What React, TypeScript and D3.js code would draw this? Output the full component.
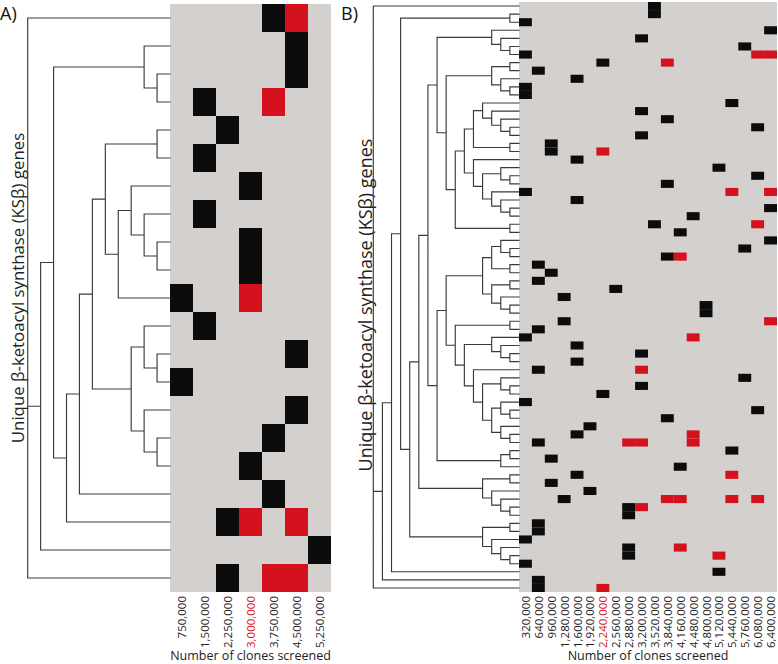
import React, { useMemo } from "react";
import * as d3 from "d3";

type Tree = number | Tree[];

// ---------- Panel A data ----------
const colsA = ["750,000", "1,500,000", "2,250,000", "3,000,000", "3,750,000", "4,500,000", "5,250,000"];
const highlightA = "3,000,000";
// column index of the first (black) detection, one per gene row
const blackColA = [4, 5, 5, 1, 2, 1, 3, 1, 3, 3, 0, 1, 5, 0, 5, 4, 3, 4, 2, 6, 2];
// [row, column] of repeated (red) detections
const redA = [[0, 5], [3, 4], [10, 3], [18, 3], [18, 5], [20, 4], [20, 5]];
// dendrogram topology (leaf = row index)
const aN92: Tree = [[[4, 5], [[6, [7, [8, 9]]], 10]], [[11, [12, 13]], [14, [15, 16]]]];
const aN54: Tree = [[1, [2, 3]], [[aN92, 17], 18]];
const treeA: Tree = [0, [aN54, 19], 20];

// ---------- Panel B data ----------
const colsB = [
  "320,000", "640,000", "960,000", "1,280,000", "1,600,000", "1,920,000", "2,240,000",
  "2,560,000", "2,880,000", "3,200,000", "3,520,000", "3,840,000", "4,160,000", "4,480,000",
  "4,800,000", "5,120,000", "5,440,000", "5,760,000", "6,080,000", "6,400,000",
];
const highlightB = "2,240,000";
const blackColB = [
  10, 10, 0, 19, 9, 17, 0, 6, 1, 4,
  0, 0, 16, 9, 11, 18, 9, 2, 2, 4,
  15, 18, 11, 0, 4, 19, 13, 10, 12, 19,
  17, 11, 1, 2, 1, 7, 3, 14, 14, 3,
  1, 0, 4, 9, 4, 1, 17, 9, 6, 0,
  18, 11, 5, 4, 1, 16, 2, 12, 4, 2,
  5, 3, 8, 8, 1, 1, 0, 8, 8, 0,
  15, 1, 1,
];
const redB = [
  [6, 18], [6, 19], [7, 11], [18, 6], [23, 16], [23, 19], [27, 18], [31, 12],
  [39, 19], [41, 13], [45, 9], [53, 13], [54, 8], [54, 9], [54, 13], [58, 16],
  [61, 11], [61, 12], [61, 16], [61, 18], [62, 9], [67, 12], [68, 15], [72, 6],
];
const bN348c: Tree = [[64, 65], [66, [67, [68, 69]]]];
const bN348d: Tree = [[58, 59], [60, [61, [62, 63]]]];
const bN320a: Tree = [[12, [13, [14, [15, 16]]]], [17, 18]];
const bN320b: Tree = [19, [[20, [21, 22]], [23, [24, [25, 26]]]]];
const bN268: Tree = [[bN320a, bN320b], [27, 28]];
const bN212a: Tree = [[3, [4, [5, 6]]], [[[7, 8], [9, [10, 11]]], bN268]];
const bN348e: Tree = [[[29, [30, 31]], [32, 33]], [[34, 35], [36, [37, 38]]]];
const bN348f: Tree = [[46, [47, 48]], [[49, [50, 51]], [52, [53, 54]]]];
const bN268b: Tree = [[39, 40], [[41, [42, [43, 44]]], [45, bN348f]]];
const bN213b: Tree = [[bN348e, bN268b], [[55, 56], 57]];
const bN133: Tree = [[[bN212a, bN213b], bN348d], bN348c];
const treeB: Tree = [0, [[[[1, 2], bN133], 70], 71], 72];

// ---------- styling ----------
const GREY = "#d4d0cd";
const BLACK = "#0c0c0c";
const RED = "#d3121e";
const LINE = "#3a3a3a";
const FONT = "'Open Sans', 'Noto Sans', sans-serif";

function dendroPath(tree: Tree, yOf: (i: number) => number, x0: number, x1: number) {
  const root = d3.hierarchy<Tree>(tree, (d) => (Array.isArray(d) ? (d as Tree[]) : null));
  const xs = d3.scaleLinear().domain([0, root.height]).range([x0, x1]);
  root.eachAfter((n: any) => {
    if (!n.children) n.py = yOf(n.data as number);
    else n.py = (n.children[0].py + n.children[n.children.length - 1].py) / 2;
    n.px = xs(n.height);
  });
  const p = d3.path();
  root.each((n: any) => {
    if (!n.children) return;
    const first = n.children[0];
    const last = n.children[n.children.length - 1];
    p.moveTo(n.px, first.py);
    p.lineTo(n.px, last.py);
    n.children.forEach((c: any) => {
      p.moveTo(n.px, c.py);
      p.lineTo(c.px, c.py);
    });
  });
  return p.toString();
}

interface PanelProps {
  cols: string[];
  highlight: string;
  blackCol: number[];
  red: number[][];
  tree: Tree;
  left: number;
  right: number;
  top: number;
  bottom: number;
  dendroLeft: number;
  letter: string;
  letterX: number;
  yLabelX: number;
  yLabelY: number;
  yLabelSize: number;
}

function Panel(props: PanelProps) {
  const { cols, highlight, blackCol, red, tree, left, right, top, bottom, dendroLeft } = props;
  const xb = d3.scaleBand<string>().domain(cols).range([left, right]);
  const yb = d3.scaleBand<number>().domain(d3.range(blackCol.length)).range([top, bottom]);
  const path = useMemo(
    () => dendroPath(tree, (i) => (yb(i) as number) + yb.bandwidth() / 2, left, dendroLeft),
    [tree]
  );
  const w = xb.bandwidth();
  const h = yb.bandwidth();
  return (
    <g>
      <text x={props.letterX} y={20} fontSize={18} fill="#111">{props.letter}</text>
      <text
        transform={`translate(${props.yLabelX},${props.yLabelY}) rotate(-90)`}
        textAnchor="middle"
        dominantBaseline="central"
        fontSize={props.yLabelSize}
        fill="#222"
      >
        Unique β-ketoacyl synthase (KSβ) genes
      </text>
      <rect x={left} y={top} width={right - left} height={bottom - top} fill={GREY} />
      {blackCol.map((c, r) => (
        <rect key={"b" + r} x={xb(cols[c])} y={yb(r)} width={w} height={h} fill={BLACK} />
      ))}
      {red.map(([r, c], i) => (
        <rect key={"r" + i} x={xb(cols[c])} y={yb(r)} width={w} height={h} fill={RED} />
      ))}
      <path d={path} fill="none" stroke={LINE} strokeWidth={1.15} strokeLinecap="square" />
      {cols.map((c) => (
        <text
          key={c}
          transform={`translate(${(xb(c) as number) + w / 2},${bottom + 4}) rotate(-90)`}
          textAnchor="end"
          dominantBaseline="central"
          fontSize={11.5}
          fill={c === highlight ? RED : "#222"}
        >
          {c}
        </text>
      ))}
      <text x={(left + right) / 2} y={660} textAnchor="middle" fontSize={12.5} fill="#222">
        Number of clones screened
      </text>
    </g>
  );
}

export default function App() {
  return (
    <svg
      width={778}
      height={664}
      style={{ position: "absolute", left: 0, top: 0, background: "#fff" }}
      fontFamily={FONT}
    >
      <Panel
        cols={colsA}
        highlight={highlightA}
        blackCol={blackColA}
        red={redA}
        tree={treeA}
        left={170}
        right={331}
        top={4}
        bottom={592}
        dendroLeft={27.7}
        letter="A)"
        letterX={0}
        yLabelX={17}
        yLabelY={288}
        yLabelSize={16.8}
      />
      <Panel
        cols={colsB}
        highlight={highlightB}
        blackCol={blackColB}
        red={redB}
        tree={treeB}
        left={519}
        right={777}
        top={2}
        bottom={592}
        dendroLeft={373.3}
        letter="B)"
        letterX={341}
        yLabelX={365}
        yLabelY={305}
        yLabelSize={18}
      />
    </svg>
  );
}
